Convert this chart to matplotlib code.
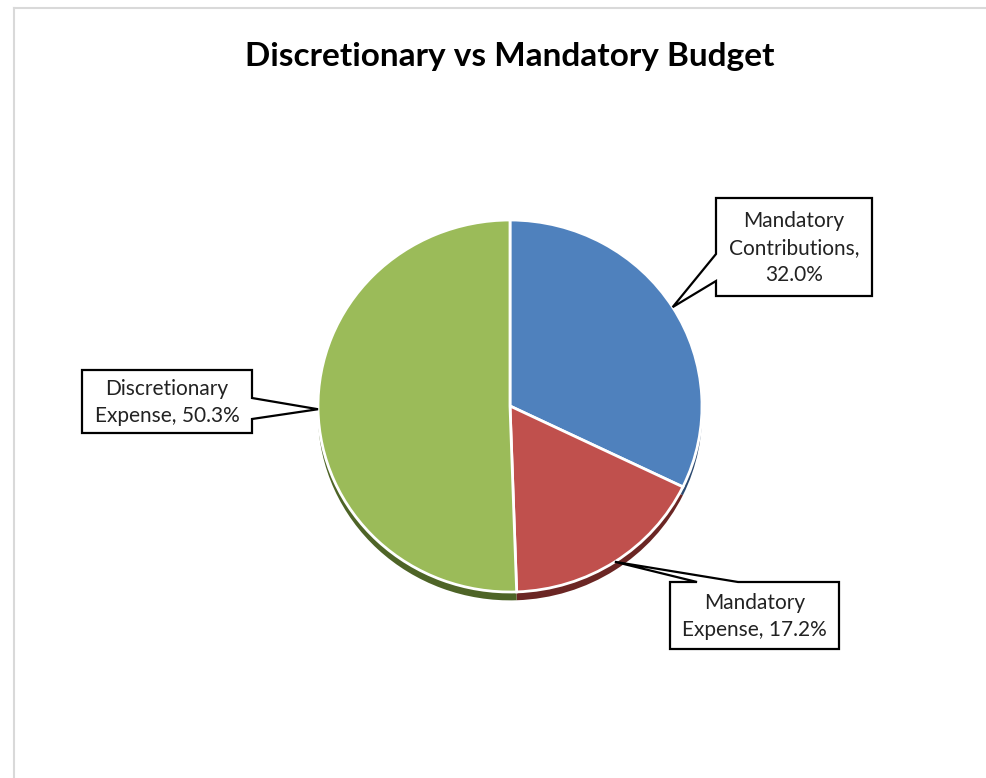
import matplotlib
matplotlib.use("Agg")
import matplotlib.pyplot as plt
from matplotlib.patches import Polygon
import numpy as np

title = "Discretionary vs Mandatory Budget"
labels = ["Mandatory\nContributions,\n32.0%", "Mandatory\nExpense, 17.2%", "Discretionary\nExpense, 50.3%"]
values = [32.0, 17.2, 50.3]
colors = ["#4F81BD", "#C0504D", "#9BBB59"]
shadow_colors = ["#2C4A70", "#6B2624", "#4E6427"]

plt.rcParams["font.family"] = ["Lato", "DejaVu Sans"]

W, H = 986, 778
fig = plt.figure(figsize=(W / 100, H / 100), dpi=100)

# pie centre and radii in pixels (slightly squashed vertically)
cx, cy, rx, ry = 510, 406, 192, 186
ax = fig.add_axes([0, 0, 1, 1])
ax.axis("off")

# dark rim under the pie
ax.pie(values, colors=shadow_colors, startangle=90, counterclock=False,
       center=(0, -0.045), radius=1.0, wedgeprops=dict(linewidth=0))
wedges, _ = ax.pie(values, colors=colors, startangle=90, counterclock=False,
                   radius=1.0, wedgeprops=dict(edgecolor="white", linewidth=2))
ax.set_aspect("auto")
ax.set_xlim(-cx / rx, (W - cx) / rx)
ax.set_ylim(-(H - cy) / ry, cy / ry)

# overlay in pixel coordinates (y down)
ov = fig.add_axes([0, 0, 1, 1])
ov.set_xlim(0, W)
ov.set_ylim(H, 0)
ov.axis("off")
ov.patch.set_alpha(0)

# frame lines
ov.plot([14, W], [8, 8], color="#d9d9d9", lw=1.5)
ov.plot([14, 14], [8, H], color="#d9d9d9", lw=1.5)

ov.text(510, 56, title, ha="center", va="center", fontsize=24, fontweight="bold")


def tip_of(w):
    ang = np.deg2rad((w.theta1 + w.theta2) / 2)
    px, py = ax.transData.transform((np.cos(ang), np.sin(ang)))
    return px, H - py


def callout(box, side, b0, b1, tip, text):
    x0, y0, x1, y1 = box
    if side == "left":
        pts = [(x0, y0), (x1, y0), (x1, y1), (x0, y1), (x0, b1), tip, (x0, b0)]
    elif side == "right":
        pts = [(x0, y0), (x1, y0), (x1, b0), tip, (x1, b1), (x1, y1), (x0, y1)]
    else:  # top
        pts = [(x0, y0), (b0, y0), tip, (b1, y0), (x1, y0), (x1, y1), (x0, y1)]
    ov.add_patch(Polygon(pts, closed=True, facecolor="white", edgecolor="black", lw=1.6, zorder=5))
    ov.text((x0 + x1) / 2, (y0 + y1) / 2 + 1, text, ha="center", va="center",
            fontsize=15, linespacing=1.42, color="#222222", zorder=6)


callout((716, 198, 872, 296), "left", 254, 281, tip_of(wedges[0]), labels[0])
callout((670, 582, 839, 649), "top", 697, 738, tip_of(wedges[1]), labels[1])
callout((82, 370, 252, 433), "right", 398, 419, tip_of(wedges[2]), labels[2])

fig.savefig("out.png", dpi=100, facecolor="white")
